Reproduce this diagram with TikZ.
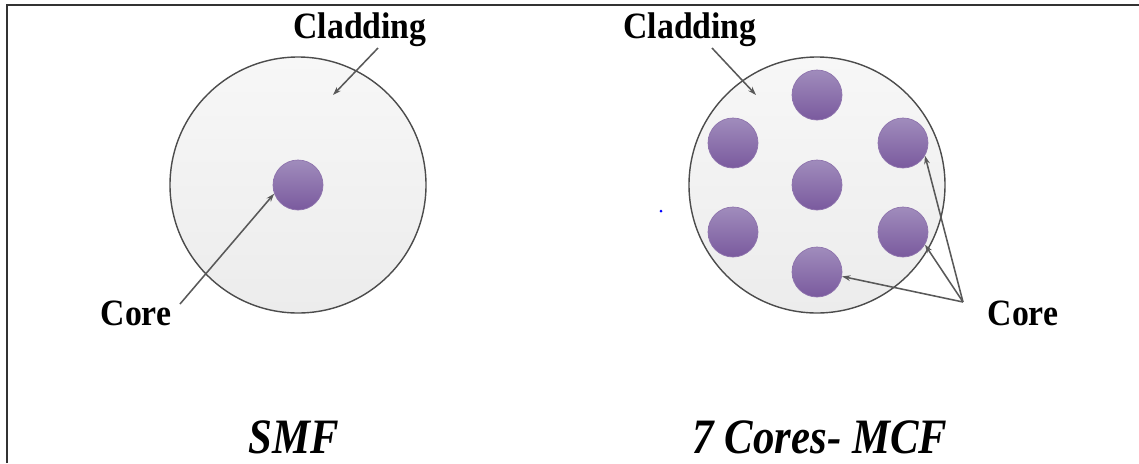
\documentclass[tikz,border=0pt]{standalone}
\usepackage{fontspec}
\setmainfont{Liberation Serif}
\usepackage{tikz}
\usetikzlibrary{arrows.meta}
\definecolor{coretop}{HTML}{A08CBC}
\definecolor{corebot}{HTML}{7A5A9E}
\definecolor{cladtop}{HTML}{F7F7F7}
\definecolor{cladbot}{HTML}{ECECEC}
\tikzset{
  clad/.style={circle, draw=black!70, line width=1pt, top color=cladtop,
    bottom color=cladbot, minimum size=256*0.025cm, inner sep=0pt},
  core/.style={circle, draw=corebot!85!white, line width=0.5pt, top color=coretop,
    bottom color=corebot, minimum size=50*0.025cm, inner sep=0pt},
  lbl/.style={font=\fontsize{24}{28}\selectfont\bfseries, inner sep=0pt,
    transform shape, yscale=1.1},
  ttl/.style={font=\fontsize{32}{36}\selectfont\bfseries\itshape, inner sep=0pt,
    transform shape, xscale=0.95, yscale=1.1},
  pointer/.style={draw=black!65, line width=1.1pt, -{Stealth[length=6pt,width=4pt]}}
}

\begin{document}
\begin{tikzpicture}[x=0.025cm, y=-0.025cm]
      \useasboundingbox (0,0) rectangle (1139,463);
      % frame
      \draw[black!80, line width=1.4pt] (7,463) -- (7,5) -- (1139,5);
      % fibres
      \node[clad] (s) at (298,185) {};
      \node[clad] (m) at (817,185) {};
      \node[core] (s1) at (298,185) {};
      \node[core] (c1) at (817,95) {};
      \node[core] (c2) at (733,143) {};
      \node[core] (c3) at (903,143) {};
      \node[core] (c4) at (817,185) {};
      \node[core] (c5) at (733,232) {};
      \node[core] (c6) at (903,232) {};
      \node[core] (c7) at (817,272) {};
      \fill[blue] (661,211) circle (1.5);
      % labels
      \node[lbl] (cl1) at (360,30) {Cladding};
      \node[lbl] (cl2) at (690,30) {Cladding};
      \node[lbl] (co1) at (136,313) {Core};
      \node[lbl] (co2) at (1023,313) {Core};
      \node[ttl] (t1) at (294,437) {SMF};
      \node[ttl] (t2) at (820,437) {7 Cores- MCF};
      \coordinate (a1) at (378,48);
      \coordinate (e1) at (333,95);
      \coordinate (a2) at (712,48);
      \coordinate (e2) at (756,95);
      \coordinate (a3) at (180,304);
      \coordinate (a4) at (963,302);
      \path[pointer] (a1) -- (e1);
      \path[pointer] (a2) -- (e2);
      \path[pointer] (a3) -- (s1.200);
      \foreach \i/\ang in {3/-30, 6/-30, 7/-10} {
	\path[pointer] (a4) -- (c\i.\ang);
      };
    \end{tikzpicture}
\end{document}
